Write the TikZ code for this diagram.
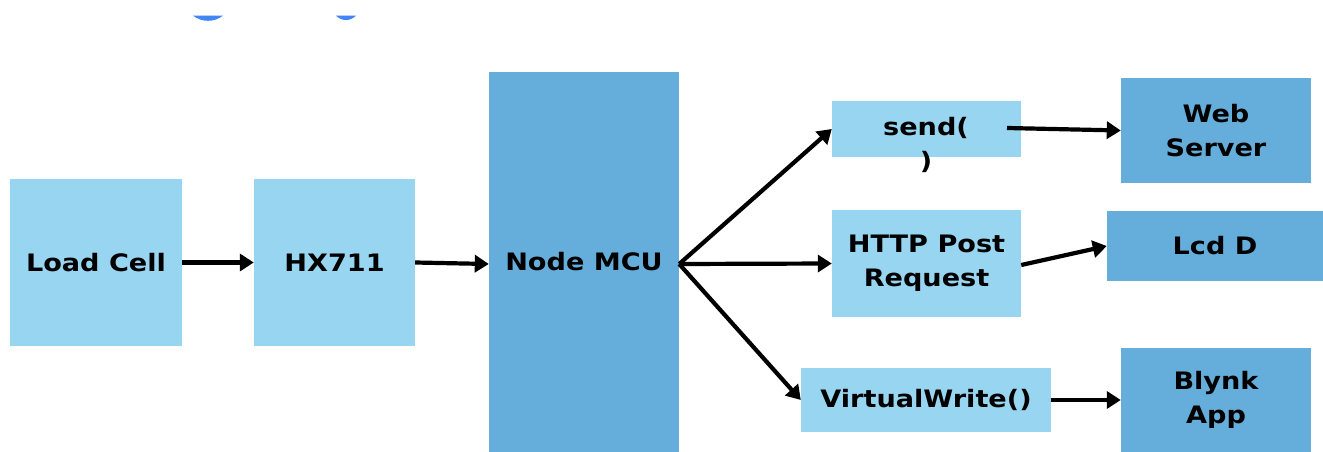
\documentclass[tikz,border=0pt]{standalone}
\usepackage{fontspec}
\setmainfont{DejaVu Sans}[FakeStretch=1.13]
\usetikzlibrary{arrows.meta}
\definecolor{lightb}{HTML}{97D5F0}
\definecolor{darkb}{HTML}{65AEDB}
\definecolor{gblue}{HTML}{4285F4}
\tikzset{
  box/.style={rectangle, inner sep=0pt, align=center, font=\fontsize{24}{34}\selectfont\bfseries, text=black},
  lbox/.style={box, fill=lightb},
  dbox/.style={box, fill=darkb},
  arr/.style={line width=4.2pt, -{Triangle[length=14pt,width=17pt]}},
}
\begin{document}
\begin{tikzpicture}[x=1pt,y=-1pt]
\useasboundingbox (0,0) rectangle (1323,452);
\fill[white] (0,0) rectangle (1323,452);
% cropped blue marks at top
\fill[gblue] (193,15.7) -- (223,15.7) .. controls (214,22.5) and (202,22.5) .. (193,15.7) -- cycle;
\fill[gblue] (336,15.7) -- (356,15.7) .. controls (350,21.5) and (342,21.5) .. (336,15.7) -- cycle;
% boxes
\node[lbox, minimum width=172pt, minimum height=167pt] (load) at (96,262.5) {Load Cell};
\node[lbox, minimum width=161pt, minimum height=167pt] (hx) at (334.5,262.5) {HX711};
\node[dbox, minimum width=190pt, minimum height=380pt] (mcu) at (584,262) {Node MCU};
\node[lbox, minimum width=189pt, minimum height=56pt] (sendbox) at (926.5,129) {};
\node[box] (sendt) at (926,145) {send(\\)};
\node[dbox, minimum width=190pt, minimum height=105pt] (web) at (1216,130.5) {Web\\Server};
\node[lbox, minimum width=189pt, minimum height=107pt] (http) at (926.5,263.5) {HTTP Post\\Request};
\node[dbox, minimum width=216pt, minimum height=70pt] (lcd) at (1215,246) {Lcd D};
\node[lbox, minimum width=250pt, minimum height=64pt] (virt) at (926,400) {VirtualWrite()};
\node[dbox, minimum width=190pt, minimum height=104pt] (blynk) at (1216,400) {Blynk\\App};
% connectors
\coordinate (mcuout) at ([yshift=-2pt]mcu.east);
\coordinate (sendout) at (1007,128);
\draw[arr] (load.east) -- (hx.west);
\draw[arr] (hx.east) -- ([yshift=-2pt]mcu.west);
\draw[arr] (mcuout) -- (sendbox.west);
\draw[arr] (mcuout) -- (http.west);
\draw[arr] (mcuout) -- (virt.west);
\draw[arr] (sendout) -- (web.west);
\draw[arr] ([yshift=-1.5pt]http.east) -- (lcd.west);
\draw[arr] (virt.east) -- (blynk.west);
\end{tikzpicture}
\end{document}
